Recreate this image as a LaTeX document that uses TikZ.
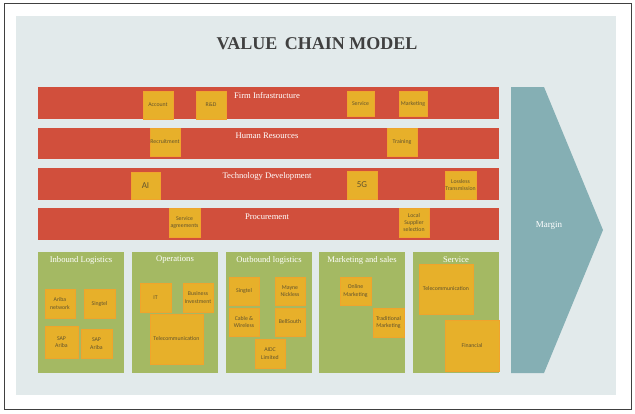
\documentclass[tikz,border=0pt]{standalone}
\usepackage{fontspec}
\setmainfont{Liberation Serif}
\newfontfamily\boxfont{Carlito}
\definecolor{bgc}{RGB}{226,234,235}
\definecolor{redc}{RGB}{209,79,60}
\definecolor{yelc}{RGB}{231,176,42}
\definecolor{yelb}{RGB}{240,164,44}
\definecolor{ytext}{RGB}{98,84,46}
\definecolor{greenc}{RGB}{164,185,99}
\definecolor{tealc}{RGB}{133,175,180}
\definecolor{titlec}{RGB}{64,64,64}
\tikzset{
  bar/.style={fill=redc, draw=none},
  bartitle/.style={text=white, font=\fontsize{8.6}{10}\selectfont, inner sep=0pt},
  gbox/.style={fill=greenc, draw=none, minimum width=86pt, minimum height=121pt, inner sep=0pt},
  gtitle/.style={text=white, font=\fontsize{8.6}{10}\selectfont, inner sep=0pt},
  ybox/.style={fill=yelc, draw=yelb, line width=0.6pt, text=ytext, inner sep=0pt, align=center,
    font=\boxfont\fontsize{5.8}{7.4}\selectfont},
  bigtext/.style={font=\boxfont\fontsize{9}{10}\selectfont},
}
\newcommand{\yb}[6]{\node[ybox, minimum width=#4pt, minimum height=#5pt] (#1) at (#2,#3) {#6};}
\begin{document}
\begin{tikzpicture}[x=1pt,y=-1pt]
\useasboundingbox (0,0) rectangle (635,413);
\draw[line width=1pt, draw=black!75] (4,3) rectangle (631,409);
\fill[bgc] (16,16) rectangle (616,395);
\node[text=titlec, font=\bfseries\fontsize{18}{20}\selectfont, inner sep=0pt] (title) at (317,44) {VALUE\, CHAIN MODEL};

% support activity bars
\fill[bar] (38,87) rectangle (499,119) coordinate (b1);
\fill[bar] (38,128) rectangle (499,159) coordinate (b2);
\fill[bar] (38,168) rectangle (499,200) coordinate (b3);
\fill[bar] (38,208) rectangle (499,240) coordinate (b4);
\node[bartitle] (t1) at (267,96) {Firm Infrastructure};
\node[bartitle] (t2) at (267,136) {Human Resources};
\node[bartitle] (t3) at (267,176) {Technology Development};
\node[bartitle] (t4) at (267,217) {Procurement};

\yb{acc}{158}{105}{30}{28}{Account}
\yb{rd}{211}{105}{30}{28}{R\&D}
\yb{svc}{360.5}{103.5}{27}{25}{Service}
\yb{mkt}{413}{103.5}{28}{25}{Marketing}
\yb{rec}{165}{142}{30}{28}{Recruitment}
\yb{trn}{402}{142}{30}{28}{Training}
\node[ybox, bigtext, minimum width=29pt, minimum height=27pt] (ai) at (145.5,185.5) {AI};
\node[ybox, bigtext, minimum width=30pt, minimum height=28pt] (fiveg) at (362,185) {5G};
\yb{loss}{460.5}{185}{31}{28}{Lossless\\Transmission}
\yb{sagr}{184.5}{222.5}{31}{29}{Service\\agreements}
\yb{lss}{414}{222.5}{30}{29}{Local\\Supplier\\selection}

% margin arrow
\fill[tealc] (511,87) -- (544,87) -- (603,230) -- (544,373) -- (511,373) -- cycle;
\node[bartitle, font=\fontsize{9}{10}\selectfont] (margin) at (549,225) {Margin};

% primary activities
\node[gbox] (g1) at (81,312.5) {};
\node[gbox] (g2) at (175,312.5) {};
\node[gbox] (g3) at (269,312.5) {};
\node[gbox] (g4) at (362,312.5) {};
\node[gbox] (g5) at (456,312.5) {};
\node[gtitle] (gt1) at (81,260) {Inbound Logistics};
\node[gtitle] (gt2) at (175,260) {Operations};
\node[gtitle] (gt3) at (269,260) {Outbound logistics};
\node[gtitle] (gt4) at (362,260) {Marketing and sales};

\yb{arn}{60}{303.5}{30}{29}{Ariba\\network}
\yb{sing1}{99.5}{303.5}{31}{29}{Singtel}
\yb{sapa}{61.5}{342}{33}{32}{SAP\\Ariba}
\yb{sapb}{96.5}{343.5}{31}{29}{SAP\\Ariba}

\yb{it}{155.5}{297.5}{31}{29}{IT}
\yb{binv}{198}{297.5}{30}{29}{Business\\Investment}
\yb{tel1}{176.5}{339}{53}{50}{Telecommunication}

\yb{sing2}{244}{291}{30}{28}{Singtel}
\yb{mayne}{290}{291}{30}{28}{Mayne\\Nickless}
\yb{cw}{244}{322}{30}{28}{Cable \&\\Wireless}
\yb{bell}{290}{322}{30}{28}{BellSouth}
\yb{aidc}{270}{353.5}{30}{29}{AIDC\\Limited}

\yb{onl}{355.5}{291}{31}{28}{Online\\Marketing}
\yb{trad}{388.5}{322.5}{31}{29}{Traditional\\Marketing}

\yb{tel2}{446}{289}{54}{50}{Telecommunication}
\yb{fin}{472}{345.5}{54}{51}{Financial}
\node[gtitle] (gt5) at (456,260) {Service};
\end{tikzpicture}
\end{document}
